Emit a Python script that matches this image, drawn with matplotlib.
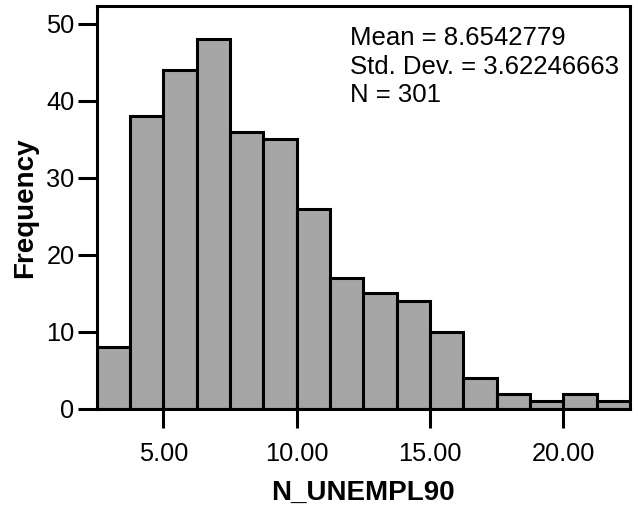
import numpy as np
import matplotlib
matplotlib.use("Agg")
import matplotlib.pyplot as plt

plt.rcParams["font.family"] = ["Liberation Sans", "DejaVu Sans"]

# N_UNEMPL90 histogram, bins of width 1.25 starting at 2.5
bin_edges = [2.5 + 1.25 * i for i in range(17)]
counts = [8, 38, 44, 48, 36, 35, 26, 17, 15, 14, 10, 4, 2, 1, 2, 1]
x_ticks = [5.0, 10.0, 15.0, 20.0]
x_ticklabels = ["5.00", "10.00", "15.00", "20.00"]
y_ticks = [0, 10, 20, 30, 40, 50]
stats_lines = ["Mean = 8.6542779", "Std. Dev. = 3.62246663", "N = 301"]

fig = plt.figure(figsize=(6.38, 5.07), dpi=100)
ax = fig.add_axes([0.1516, 0.1933, 0.8359, 0.7947])

lefts = np.array(bin_edges[:-1])
widths = np.diff(bin_edges)
ax.bar(lefts, counts, width=widths, align="edge", color="#a6a6a6",
       edgecolor="black", linewidth=2.2)

ax.set_xlim(bin_edges[0], bin_edges[-1])
ax.set_ylim(0, 52.3)
ax.set_xticks(x_ticks)
ax.set_xticklabels(x_ticklabels)
ax.set_yticks(y_ticks)
ax.tick_params(axis="both", direction="out", length=14, width=2.2,
               labelsize=18.3, pad=2)
ax.tick_params(axis="x", pad=10)
for sp in ax.spines.values():
    sp.set_linewidth(2.2)

ax.set_xlabel("N_UNEMPL90", fontsize=20, fontweight="bold", labelpad=10)
ax.set_ylabel("Frequency", fontsize=20, fontweight="bold", labelpad=6)

for i, line in enumerate(stats_lines):
    ax.text(0.475, 0.95 - i * 0.071, line, transform=ax.transAxes,
            fontsize=18.5, va="top", ha="left")

fig.savefig("out.png", dpi=100)
